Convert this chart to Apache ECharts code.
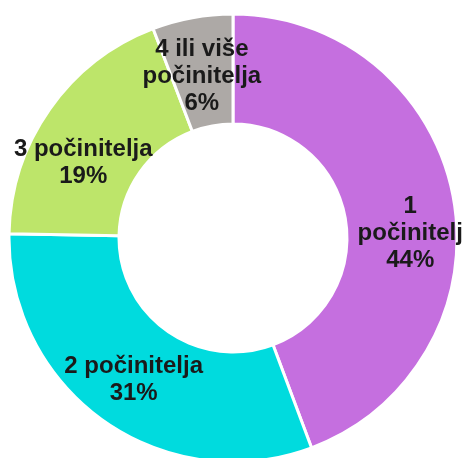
<!DOCTYPE html>
<html>
<head>
<meta charset="utf-8">
<script src="https://cdn.jsdelivr.net/npm/echarts@6/dist/echarts.min.js"></script>
<style>
  html, body { margin: 0; padding: 0; background: #fff; }
  #chart { width: 465px; height: 458px; }
</style>
</head>
<body>
<div id="chart"></div>
<script>
const categories = ['1\npočinitelj', '2 počinitelja', '3 počinitelja', '4 ili više\npočinitelja']
const values = [44.3, 31.0, 18.9, 5.8]
const percentLabels = ['44%', '31%', '19%', '6%']
const colors = ['#C56FDF', '#00DBDE', '#BDE56A', '#ADA9A6']
// nudges so labels sit where they are in the original
const labelOffsets = [[8, 26], [0, 1], [-9, 24], [0, 8]]

const chart = echarts.init(document.getElementById('chart'))

const option = {
  animation: false,
  series: [
    {
      type: 'pie',
      center: [233, 238],
      radius: [114, 224],
      startAngle: 90,
      clockwise: true,
      avoidLabelOverlap: false,
      itemStyle: {
        borderColor: '#fff',
        borderWidth: 3
      },
      label: {
        show: true,
        position: 'inside',
        fontFamily: 'Liberation Sans, Arial, sans-serif',
        fontWeight: 'bold',
        fontSize: 24,
        lineHeight: 27,
        color: '#1a1a1a',
        align: 'center',
        formatter: (p) => `${categories[p.dataIndex]}\n${percentLabels[p.dataIndex]}`
      },
      labelLine: { show: false },
      data: values.map((v, i) => ({
        name: categories[i],
        value: v,
        itemStyle: { color: colors[i] },
        label: { offset: labelOffsets[i] }
      }))
    }
  ]
}

chart.setOption(option)
</script>
</body>
</html>
